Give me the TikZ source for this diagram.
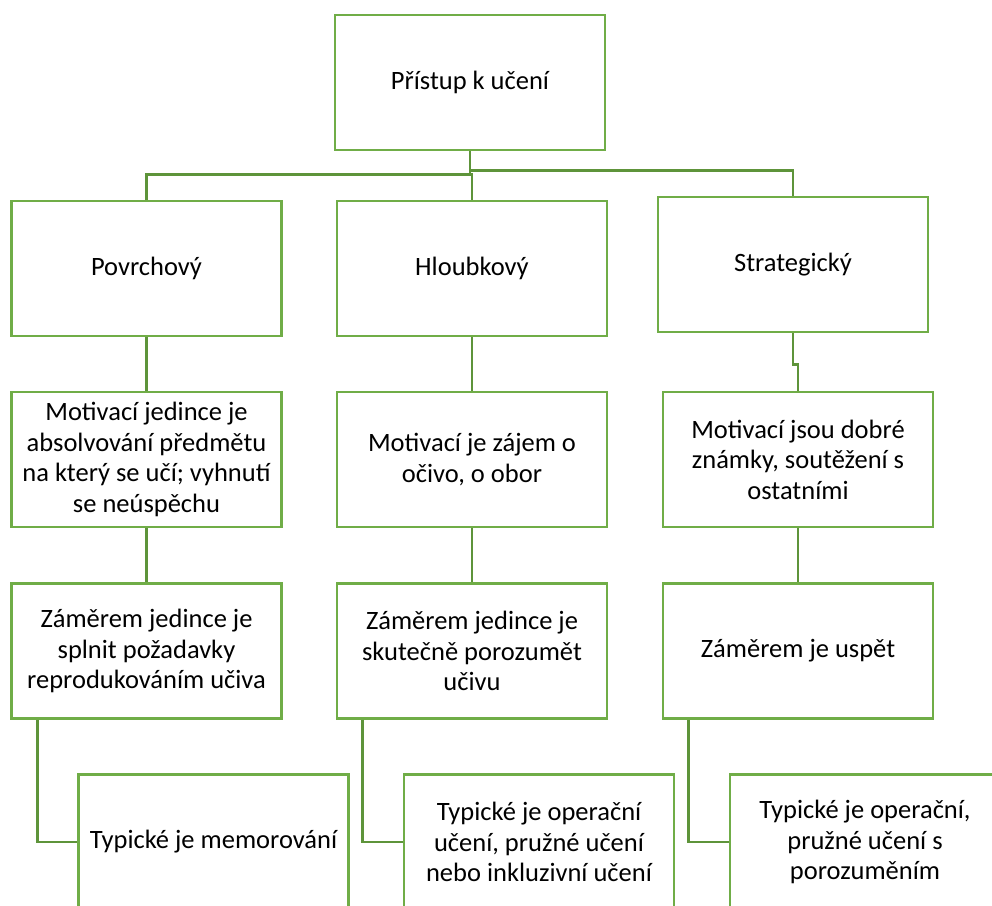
\documentclass[tikz,border=0pt]{standalone}
\usepackage{fontspec}
\setmainfont{Carlito}
\definecolor{boxgreen}{RGB}{112,173,71}
\definecolor{linkgreen}{RGB}{94,148,58}
\begin{document}
\begin{tikzpicture}[x=1pt,y=-1pt,
  box/.style={draw=boxgreen, line width=2.6pt, fill=white, rectangle,
    minimum width=270pt, minimum height=135pt, inner sep=0pt,
    align=center, font=\fontsize{26.5}{30.6}\selectfont},
  link/.style={draw=linkgreen, line width=2.6pt}]
\useasboundingbox (0,0) rectangle (992,905);
\clip (0,0) rectangle (992,905);

% root
\node[box] (top) at (470,82.5) {Přístup k učení};

% level 1
\node[box] (pov) at (146.5,268.5) {Povrchový};
\node[box] (hlo) at (472,268.5) {Hloubkový};
\node[box] (str) at (793,264.5) {Strategický};

% level 2: motivation
\node[box] (mot1) at (146.5,459.5) {Motivací jedince je\\absolvování předmětu\\na který se učí; vyhnutí\\se neúspěchu};
\node[box] (mot2) at (472,459.5) {Motivací je zájem o\\očivo, o obor};
\node[box] (mot3) at (798,459.5) {Motivací jsou dobré\\známky, soutěžení s\\ostatními};

% level 3: intention
\node[box] (zam1) at (146.5,651) {Záměrem jedince je\\splnit požadavky\\reprodukováním učiva};
\node[box] (zam2) at (472,651) {Záměrem jedince je\\skutečně porozumět\\učivu};
\node[box] (zam3) at (798,651) {Záměrem je uspět};

% level 4: typical learning
\node[box] (typ1) at (213.5,842) {Typické je memorování};
\node[box] (typ2) at (539,842) {Typické je operační\\učení, pružné učení\\nebo inkluzivní učení};
\node[box] (typ3) at (865,842) {Typické je operační,\\pružné učení s\\porozuměním};

% connectors
\draw[link] (top.south) -- ++(0,23) -| (pov.north);
\draw[link] (top.south) -- ++(0,23) -| (hlo.north);
\draw[link] (top.south) -- ++(0,19) -| (str.north);

\draw[link] (pov.south) -- (mot1.north);
\draw[link] (hlo.south) -- (mot2.north);
\draw[link] (str.south) -- ++(0,31) -| (mot3.north);

\draw[link] (mot1.south) -- (zam1.north);
\draw[link] (mot2.south) -- (zam2.north);
\draw[link] (mot3.south) -- (zam3.north);

\draw[link] ([xshift=27pt]zam1.south west) |- (typ1.west);
\draw[link] ([xshift=27pt]zam2.south west) |- (typ2.west);
\draw[link] ([xshift=27pt]zam3.south west) |- (typ3.west);
\end{tikzpicture}
\end{document}
